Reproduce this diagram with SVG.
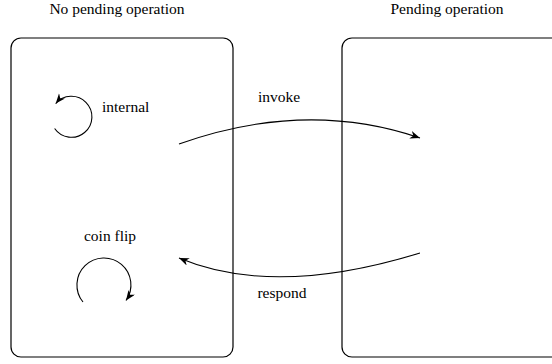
<svg xmlns="http://www.w3.org/2000/svg" width="552" height="364" viewBox="0 0 552 364">
<defs>
<marker id="ah" markerUnits="userSpaceOnUse" markerWidth="12" markerHeight="10" refX="10" refY="4" orient="auto">
<path d="M0,0 L10,4 L0,8 L3,4 Z" fill="#000"/>
</marker>
<style>
.t{font-family:'Liberation Serif','Times New Roman',serif;font-size:15.5px;fill:#000}
.box{fill:none;stroke:#000;stroke-width:1.2}
.ln{fill:none;stroke:#000;stroke-width:1.1}
</style>
</defs>
<rect width="552" height="364" fill="#fff"/>
<g id="no-pending">
<rect class="box" x="11" y="38" width="222" height="319" rx="10"/>
<text class="t" x="117" y="14" text-anchor="middle">No pending operation</text>
</g>
<g id="pending">
<rect class="box" x="342" y="38" width="240" height="319" rx="10"/>
<text class="t" x="447" y="14" text-anchor="middle">Pending operation</text>
</g>
<g id="internal">
<path class="ln" d="M54.6,128.5 A20.5,20.5 0 1 0 55.7,103.6" marker-end="url(#ah)"/>
<text class="t" x="102" y="112">internal</text>
</g>
<g id="coin-flip">
<path class="ln" d="M83,302 A27,27 0 1 1 126,300.5" marker-end="url(#ah)"/>
<text class="t" x="110" y="241" text-anchor="middle">coin flip</text>
</g>
<g id="connectors">
<path class="ln" d="M179,144 Q306,99 420,138" marker-end="url(#ah)"/>
<text class="t" x="279" y="102" text-anchor="middle">invoke</text>
<path class="ln" d="M420,253 Q274,298 179,258" marker-end="url(#ah)"/>
<text class="t" x="282" y="298" text-anchor="middle">respond</text>
</g>
</svg>
